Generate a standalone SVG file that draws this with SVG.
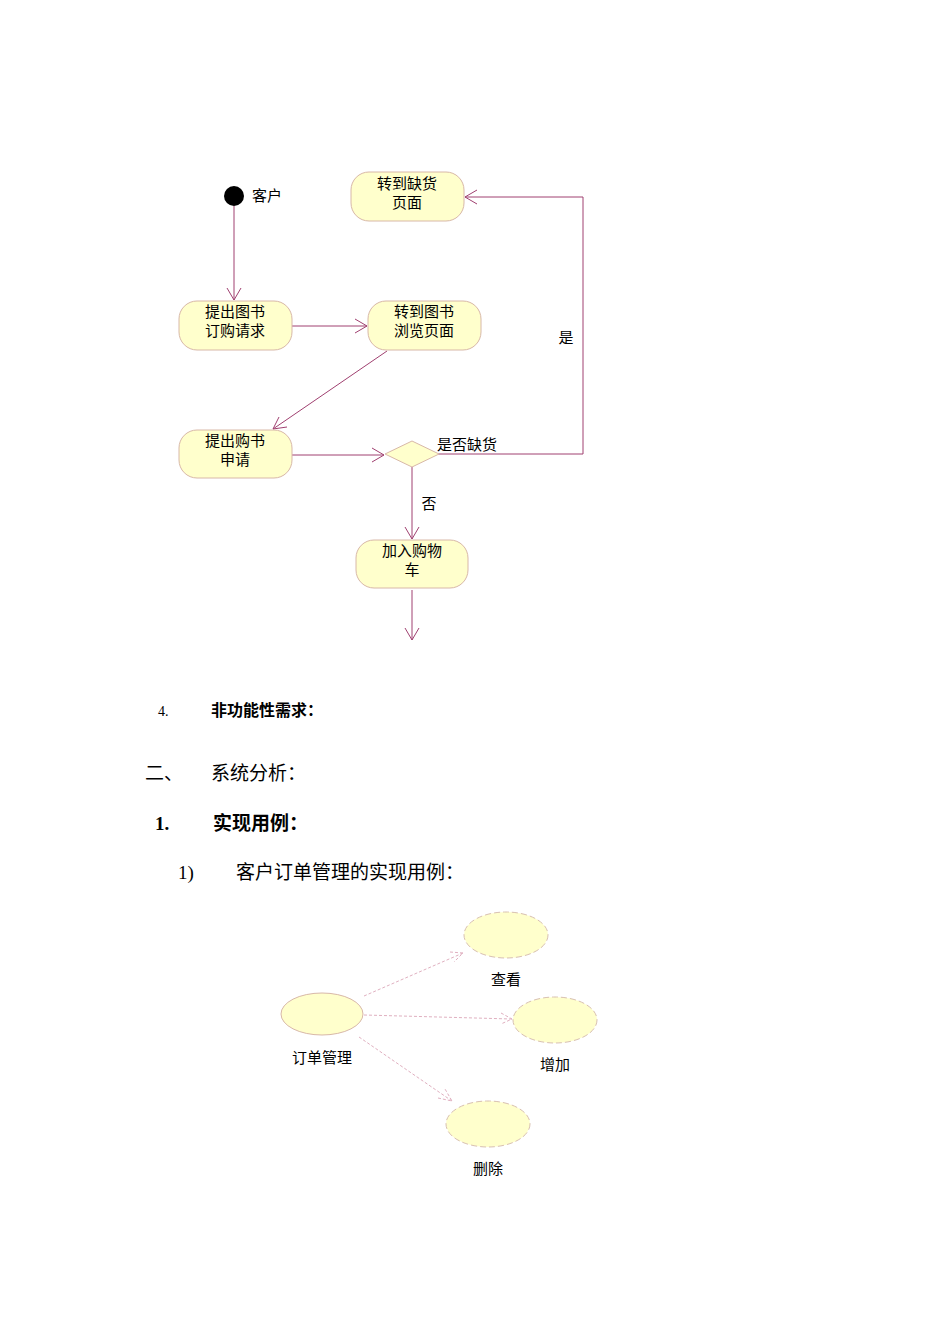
<svg xmlns="http://www.w3.org/2000/svg" width="950" height="1344" viewBox="0 0 950 1344">
<style>
.n{fill:#ffffcc;stroke:#d8b8a8;stroke-width:1}
.t{font-family:"Liberation Sans","Noto Sans CJK SC",sans-serif;font-size:15px;fill:#000;text-anchor:middle}
.c{stroke:#a04070;stroke-width:1;fill:none}
.d{stroke:#e0b0c0;stroke-width:1;fill:none;stroke-dasharray:3,2}
.h{font-family:"Liberation Serif","Noto Sans CJK SC",serif;fill:#000}
.u{fill:#ffffcc;stroke:#d8c0b0;stroke-dasharray:6,3}
</style>
<rect width="950" height="1344" fill="#fff"/>
<g id="edges">
<path class="c" d="M234 206V300M227 288L234 300L241 288"/>
<path class="c" d="M292 326H367M355 319L367 326L355 333"/>
<path class="c" d="M387 351L273 429M279 417L273 429L287 427"/>
<path class="c" d="M292 455H384M372 448L384 455L372 462"/>
<path class="c" d="M438 454H583V197H465M477 190L465 197L477 204"/>
<path class="c" d="M412 467V539M405 527L412 539L419 527"/>
<path class="c" d="M412 590V640M405 628L412 640L419 628"/>
<path class="d" d="M364 996L463 953M450 952L463 953L454 962"/>
<path class="d" d="M364 1015L512 1019M501 1013L512 1019L501 1024"/>
<path class="d" d="M359 1037L452 1101M438 1098L452 1101L445 1089"/>
</g>
<g id="start"><circle cx="234" cy="196" r="10" fill="#000"/><text class="t" x="267" y="201">客户</text></g>
<g id="n1"><rect class="n" x="351" y="172" width="113" height="49" rx="18"/><text class="t" x="407" y="189">转到缺货</text><text class="t" x="407" y="208">页面</text></g>
<g id="n2"><rect class="n" x="179" y="301" width="113" height="49" rx="18"/><text class="t" x="235" y="317">提出图书</text><text class="t" x="235" y="336">订购请求</text></g>
<g id="n3"><rect class="n" x="368" y="301" width="113" height="49" rx="18"/><text class="t" x="424" y="317">转到图书</text><text class="t" x="424" y="336">浏览页面</text></g>
<g id="n4"><rect class="n" x="179" y="430" width="113" height="48" rx="18"/><text class="t" x="235" y="446">提出购书</text><text class="t" x="235" y="465">申请</text></g>
<g id="dec"><polygon class="n" points="385,454 412,441 439,454 412,467"/><text class="t" x="467" y="450">是否缺货</text></g>
<text class="t" x="566" y="343">是</text>
<text class="t" x="429" y="509">否</text>
<g id="n5"><rect class="n" x="356" y="540" width="112" height="48" rx="18"/><text class="t" x="412" y="556">加入购物</text><text class="t" x="412" y="575">车</text></g>
<text class="h" x="158" y="716" font-size="14">4.</text>
<text class="h" x="211" y="716" font-size="16" font-weight="bold">非功能性需求：</text>
<text class="h" x="145" y="780" font-size="19">二、</text>
<text class="h" x="211" y="780" font-size="19">系统分析：</text>
<text class="h" x="155" y="830" font-size="19" font-weight="bold">1.</text>
<text class="h" x="213" y="830" font-size="19" font-weight="bold">实现用例：</text>
<text class="h" x="178" y="879" font-size="19">1)</text>
<text class="h" x="236" y="879" font-size="19">客户订单管理的实现用例：</text>
<g id="u1"><ellipse class="n" cx="322" cy="1014" rx="41" ry="21"/><text class="t" x="322" y="1063">订单管理</text></g>
<g id="u2"><ellipse class="u" cx="506" cy="935" rx="42" ry="23"/><text class="t" x="506" y="985">查看</text></g>
<g id="u3"><ellipse class="u" cx="555" cy="1020" rx="42" ry="23"/><text class="t" x="555" y="1070">增加</text></g>
<g id="u4"><ellipse class="u" cx="488" cy="1124" rx="42" ry="23"/><text class="t" x="488" y="1174">删除</text></g>
</svg>
